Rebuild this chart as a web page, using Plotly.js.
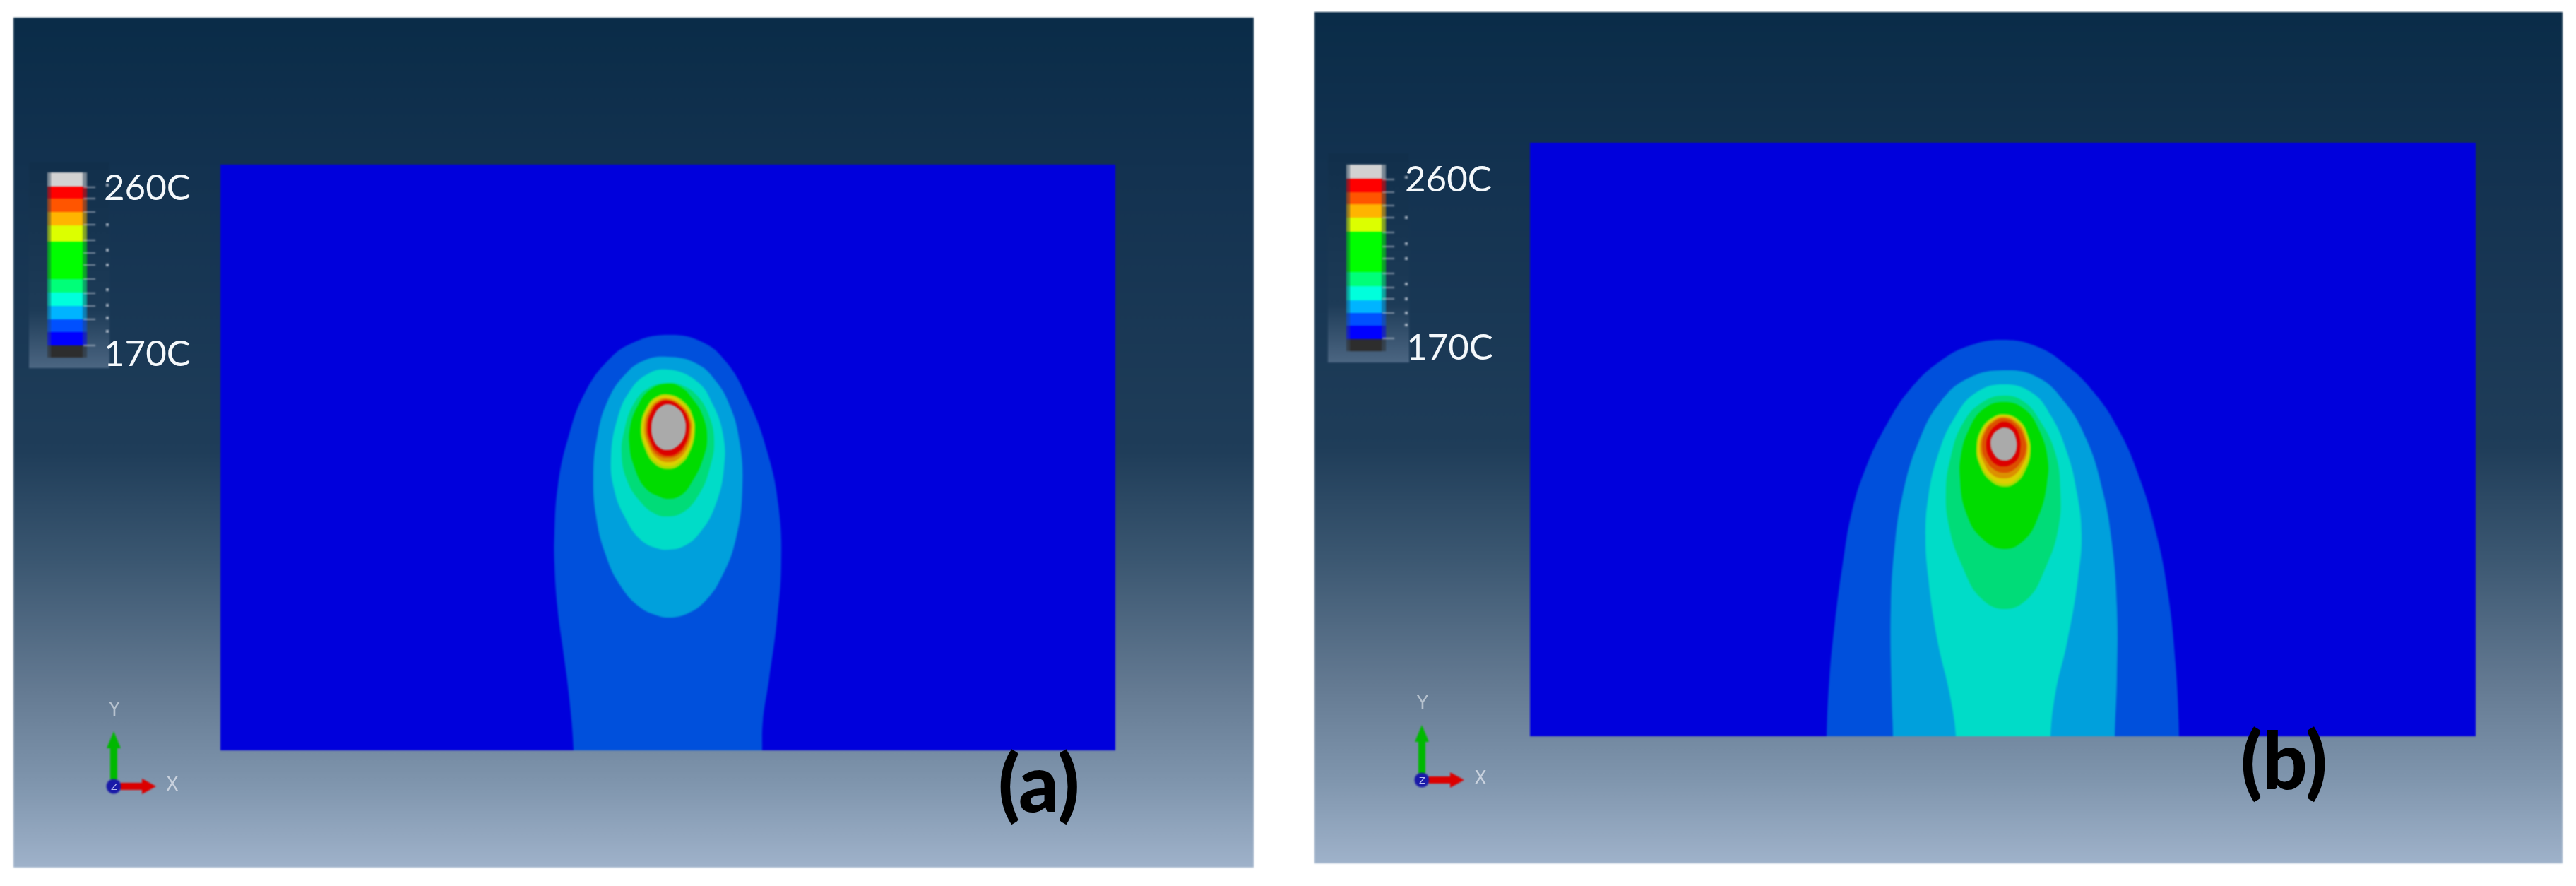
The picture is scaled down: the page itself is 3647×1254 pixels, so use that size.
<!DOCTYPE html>
<html>
<head>
<meta charset="utf-8">
<script src="https://cdn.plot.ly/plotly-3.0.1.min.js"></script>
<style>
html,body{margin:0;padding:0;background:#fff;}
#plot{width:3647px;height:1254px;}
#plot .cartesianlayer{filter:blur(1.3px);}
#plot .annotation{filter:blur(0.7px);}
</style>
</head>
<body>
<div id="plot"></div>
<script>
// ---- Temperature bands (colour of each plotted isotherm band) ----
const colHalo = '#0050dc', colCyan = '#00a0dc', colTeal = '#00dcc8', colMint = '#00dc78', colGreen = '#00dc00';
const colLime = '#a8dc00', colYellow = '#dcd000', colOrange = '#dc9000', colDeep = '#dc5000', colRed = '#dc0000', colGrey = '#aaaaaa';
const colPlate = '#0000dc';

// ---- Panel (a) contours: u across plate from heat-source axis, v above plate base ----
const aHaloU = [-134,-141,-149,-157,-161,-161,-156,-142,-119,-86,-52,-1,48,81,114,141,156,160,154,143,134,133];
const aHaloV = [0,82,143,204,265,306,376,441,504,551,576,588,578,551,494,420,347,265,184,102,41,0];
const aCyanU = [-1,-36,-62,-86,-101,-106,-102,-89,-69,-42,-19,1,28,54,78,96,105,101,88,68,41];
const aCyanV = [557,551,531,494,441,388,330,278,235,204,192,188,194,213,250,300,371,437,486,522,547];
const aTealU = [-1,-32,-56,-72,-81,-77,-62,-39,-16,1,24,48,68,79,78,63,41];
const aTealV = [539,531,506,469,416,371,331,298,286,284,290,312,350,400,445,490,522];
const aMintU = [-1,-29,-49,-62,-66,-59,-42,-19,-1,21,44,59,65,58,41,21];
const aMintV = [520,512,490,453,420,384,355,335,331,337,363,400,437,473,502,516];
const aGreenU = [-1,-26,-44,-54,-55,-49,-32,-12,-1,18,36,49,55,49,34,18];
const aGreenV = [519,510,486,457,433,404,371,359,356,361,384,412,441,473,498,514];
const aLimeU = [0,24,36,38,32,17,0,-19,-34,-39,-31,-18];
const aLimeV = [504,492,470,452,425,404,398,405,429,459,485,500];
const aYellowU = [0,22,34,36,30,16,0,-18,-32,-37,-29,-17];
const aYellowV = [502,490,469,452,427,408,402,409,431,459,484,498];
const aOrangeU = [0,21,32,33,28,15,0,-16,-29,-34,-27,-15];
const aOrangeV = [498,487,468,452,430,413,408,414,434,459,482,495];
const aDeepU = [0,20,30,31,26,14,0,-15,-27,-31,-25,-14];
const aDeepV = [496,485,467,452,433,418,414,418,436,459,480,493];
const aRedU = [0,18,28,29,24,13,0,-14,-25,-29,-23,-13];
const aRedV = [495,485,468,452,434,421,417,422,438,459,480,492];
const aGreyU = [0,15,23,25,21,11,0,-12,-21,-24,-20,-11];
const aGreyV = [490,483,470,455,440,429,425,428,440,458,474,486];

// ---- Panel (b) contours ----
const bHaloU = [-251,-247,-239,-228,-216,-197,-166,-132,-90,-48,0,48,90,128,163,193,216,232,243,248];
const bHaloV = [0,82,163,245,314,376,441,492,531,553,561,551,524,486,433,363,286,204,102,0];
const bCyanU = [-157,-159,-160,-155,-144,-121,-90,-52,0,48,86,117,140,153,160,160,157];
const bCyanV = [0,61,184,265,339,416,473,506,518,508,473,420,347,273,184,82,0];
const bTealU = [-68,-77,-94,-107,-111,-107,-94,-71,-40,0,40,67,90,103,110,105,90,73,66];
const bTealV = [0,61,135,224,282,339,396,449,486,498,486,453,400,347,286,224,135,61,0];
const bMintU = [0,-33,-59,-75,-82,-77,-59,-33,0,33,60,77,80,73,52,29];
const bMintV = [482,471,441,396,347,294,241,196,180,194,241,294,347,400,445,473];
const bGreenU = [0,-29,-50,-61,-62,-54,-33,0,29,50,61,62,50,29];
const bGreenV = [473,463,433,396,363,318,282,265,278,314,359,392,433,463];
const bLimeU = [0,22,35,38,32,18,0,-20,-35,-39,-32,-18];
const bLimeV = [456,447,424,402,379,359,353,362,385,409,435,450];
const bYellowU = [0,21,33,36,29,16,0,-18,-33,-37,-30,-17];
const bYellowV = [454,445,423,402,381,362,357,365,386,409,434,448];
const bOrangeU = [0,20,31,33,26,14,0,-16,-29,-34,-28,-16];
const bOrangeV = [452,443,423,403,384,369,365,370,389,409,432,446];
const bDeepU = [0,18,29,31,24,12,0,-13,-26,-31,-26,-14];
const bDeepV = [450,441,422,404,388,376,373,377,392,409,431,445];
const bRedU = [0,14,22,23,19,9,0,-10,-20,-25,-21,-11];
const bRedV = [445,439,424,405,392,384,382,384,394,411,428,440];
const bGreyU = [0,11,17,18,14,7,0,-7,-14,-19,-16,-8];
const bGreyV = [437,433,422,407,397,391,390,392,399,413,426,434];

// ---- Plates ----
const plateAU = [-634,633], plateAV = [0,829];
const plateBU = [-671,668], plateBV = [0,840];

// ---- Viewport backgrounds ----
const panelAX = [19,1775], panelAY = [25,1228];
const panelBX = [1861,3628], panelBY = [17,1222];
const bgStops = [0,0.18,0.51,0.64,0.79,0.9,1];
const bgColors = ['#0a2c48','#133250','#1f3d59','#3b5771','#647a92','#7f95ad','#9fb2ca'];

// ---- Legend (colour key) ----
const legendLabels = ['260C','170C'];
const legendColors = ['#d2d2d2','#ff0000','#ff5500','#ffb400','#dcff00','#00ff00','#00ff78','#00ffdc','#00b4ff','#0050ff','#0000ff','#2d2d2d'];
const keyEdgesA = [244,264,281,300,319,342,395,414,433,452,470,489,506];
const keyEdgesB = [233,253,272,289,308,328,385,405,425,443,461,480,497];
const keyAX = [67,123,72,117], keyBX = [1906,1962,1911,1956];
const backAX = [41,155], backAY = [229,521];
const backBX = [1880,1995], backBY = [217,513];
const backStops = [0,0.72,1];
const backColors = ['#112f4b','#1d3b57','#4c6682'];
const tickYA = [265,281,300,318,340,358,375,395,415,433,452,489];
const dotYA = [262,318,354,375,410,432,450,469];
const tickYB = [254,272,291,308,329,349,366,387,407,423,443,479];
const dotYB = [251,308,345,366,402,423,443,460];
const labelAPos = [[145,263],[145,498]];
const labelBPos = [[1987,251],[1989,489]];

// ---- Orientation triads ----
const originA = [161,1113], originB = [2013,1104];
const yArrowX = [-5,5,5,10,0,-10,-5], yArrowY = [-10,-10,-54,-54,-78,-54,-54];
const xArrowX = [10,40,40,60,40,40,10], xArrowY = [-5,-5,-11,0,11,5,5];
const yTextOff = [0,-109], xTextOff = [83,-3];

// ---- Panel captions ----
const captions = ['(a)','(b)'];
const captionPos = [[1471,1105],[3233,1073]];

// ---------------- build ----------------
const traces = [];
const hidden = {hoverinfo:'skip', showlegend:false};

function background(xr, yr, stops, colors, xa, ya){
  traces.push(Object.assign({
    type:'scatter', mode:'lines', x:[xr[0],xr[1],xr[1],xr[0],xr[0]], y:[yr[0],yr[0],yr[1],yr[1],yr[0]],
    fill:'toself', line:{width:0},
    fillgradient:{type:'vertical', start:yr[0], stop:yr[1], colorscale:stops.map((s,i)=>[s,colors[i]])},
    xaxis:xa, yaxis:ya
  }, hidden));
}
function flat(xs, ys, color, op, xa, ya){
  traces.push(Object.assign({
    type:'scatter', mode:'lines', x:xs, y:ys, fill:'toself', fillcolor:color, opacity:op===undefined?1:op,
    line:{width:0}, xaxis:xa, yaxis:ya
  }, hidden));
}
function contour(us, vs, color, xa, ya){
  let xs, ys;
  if(vs[0]===0){ // band runs off the plate base
    xs=[us[0]].concat(us,[us[us.length-1]]);
    ys=[-40].concat(vs,[-40]);
  } else {
    xs=us.concat([us[0]]);
    ys=vs.concat([vs[0]]);
  }
  traces.push(Object.assign({
    type:'scatter', mode:'lines', x:xs, y:ys, fill:'toself', fillcolor:color,
    line:{width:0, shape:'spline', smoothing:1.3}, xaxis:xa, yaxis:ya
  }, hidden));
}
function rect(xr, yr, color, xa, ya){
  flat([xr[0],xr[1],xr[1],xr[0],xr[0]],[yr[0],yr[0],yr[1],yr[1],yr[0]],color,1,xa,ya);
}
function key(edges, kx, ticks, dots){
  const tops=edges.slice(0,-1), hs=tops.map((t,i)=>edges[i+1]-t);
  traces.push(Object.assign({type:'bar', x:tops.map(()=> (kx[0]+kx[1])/2), y:hs, base:tops,
    width:tops.map(()=>kx[1]-kx[0]), marker:{color:legendColors, line:{width:0}}, opacity:0.55,
    xaxis:'x4', yaxis:'y4'}, hidden));
  traces.push(Object.assign({type:'bar', x:tops.map(()=> (kx[2]+kx[3])/2), y:hs, base:tops,
    width:tops.map(()=>kx[3]-kx[2]), marker:{color:legendColors, line:{width:0}},
    xaxis:'x4', yaxis:'y4'}, hidden));
  const tx=[], ty=[];
  ticks.forEach(t=>{tx.push(kx[1]-5,kx[1]+12,null); ty.push(t,t,null);});
  traces.push(Object.assign({type:'scatter',mode:'lines',x:tx,y:ty,line:{color:'rgba(210,215,225,0.55)',width:2},xaxis:'x4',yaxis:'y4'},hidden));
  traces.push(Object.assign({type:'scatter',mode:'markers',x:dots.map(()=>kx[1]+29),y:dots,
    marker:{symbol:'square',size:4,color:'rgba(220,225,235,0.7)'},xaxis:'x4',yaxis:'y4'},hidden));
}
function triad(o){
  flat(yArrowX.map(v=>v+o[0]), yArrowY.map(v=>v+o[1]), '#00b800', 1, 'x4','y4');
  flat(xArrowX.map(v=>v+o[0]), xArrowY.map(v=>v+o[1]), '#dc0000', 1, 'x4','y4');
  traces.push(Object.assign({type:'scatter',mode:'markers',x:[o[0]],y:[o[1]],
    marker:{size:21,color:'#1a1aa8',line:{width:0}},xaxis:'x4',yaxis:'y4'},hidden));
}

background(panelAX, panelAY, bgStops, bgColors, 'x','y');
background(panelBX, panelBY, bgStops, bgColors, 'x','y');
background(backAX, backAY, backStops, backColors, 'x','y');
background(backBX, backBY, backStops, backColors, 'x','y');
key(keyEdgesA, keyAX, tickYA, dotYA);
key(keyEdgesB, keyBX, tickYB, dotYB);
triad(originA);
triad(originB);

// plate (a)
rect(plateAU, [plateAV[0],plateAV[1]], colPlate, 'x2','y2');
[[aHaloU,aHaloV,colHalo],[aCyanU,aCyanV,colCyan],[aTealU,aTealV,colTeal],[aMintU,aMintV,colMint],[aGreenU,aGreenV,colGreen],
 [aLimeU,aLimeV,colLime],[aYellowU,aYellowV,colYellow],[aOrangeU,aOrangeV,colOrange],[aDeepU,aDeepV,colDeep],[aRedU,aRedV,colRed],[aGreyU,aGreyV,colGrey]]
 .forEach(c=>contour(c[0],c[1],c[2],'x2','y2'));
// plate (b)
rect(plateBU, [plateBV[0],plateBV[1]], colPlate, 'x3','y3');
[[bHaloU,bHaloV,colHalo],[bCyanU,bCyanV,colCyan],[bTealU,bTealV,colTeal],[bMintU,bMintV,colMint],[bGreenU,bGreenV,colGreen],
 [bLimeU,bLimeV,colLime],[bYellowU,bYellowV,colYellow],[bOrangeU,bOrangeV,colOrange],[bDeepU,bDeepV,colDeep],[bRedU,bRedV,colRed],[bGreyU,bGreyV,colGrey]]
 .forEach(c=>contour(c[0],c[1],c[2],'x3','y3'));

const W=3647, H=1254;
const plateAPix = {x:[312,1579], y:[233,1062]};
const plateBPix = {x:[2166,3505], y:[202,1042]};
const off = {visible:false, fixedrange:true};
const annotations = [];
function label(text,pos,size,color,weight,anchor){
  annotations.push({text:text, x:pos[0], y:pos[1], xref:'x', yref:'y', showarrow:false, xanchor:anchor, yanchor:'middle',
    font:{family:'Lato, "Open Sans", sans-serif', size:size, color:color, weight:weight}});
}
legendLabels.forEach((t,i)=>{ label(t,labelAPos[i],51,'#f4f8fb',400,'left'); label(t,labelBPos[i],51,'#f4f8fb',400,'left'); });
captions.forEach((t,i)=>label(t,captionPos[i],112,'#000000',900,'center'));
[originA,originB].forEach(o=>{
  annotations.push({text:'Y',x:o[0]+yTextOff[0],y:o[1]+yTextOff[1],xref:'x',yref:'y',showarrow:false,font:{family:'"DejaVu Sans"',size:26,color:'rgba(215,222,230,0.7)'}});
  annotations.push({text:'X',x:o[0]+xTextOff[0],y:o[1]+xTextOff[1],xref:'x',yref:'y',showarrow:false,font:{family:'"DejaVu Sans"',size:26,color:'rgba(225,230,238,0.75)'}});
  annotations.push({text:'Z',x:o[0],y:o[1],xref:'x',yref:'y',showarrow:false,font:{family:'"DejaVu Sans"',size:13,color:'rgba(225,230,255,0.8)'}});
});

const layout = {
  width:W, height:H, margin:{l:0,r:0,t:0,b:0,pad:0}, autosize:false,
  paper_bgcolor:'#ffffff', plot_bgcolor:'rgba(0,0,0,0)', showlegend:false, barmode:'overlay',
  xaxis:Object.assign({range:[0,W],domain:[0,1]},off),
  yaxis:Object.assign({range:[H,0],domain:[0,1]},off),
  xaxis2:Object.assign({range:plateAU,domain:[plateAPix.x[0]/W,plateAPix.x[1]/W],anchor:'y2'},off),
  yaxis2:Object.assign({range:plateAV,domain:[1-plateAPix.y[1]/H,1-plateAPix.y[0]/H],anchor:'x2'},off),
  xaxis3:Object.assign({range:plateBU,domain:[plateBPix.x[0]/W,plateBPix.x[1]/W],anchor:'y3'},off),
  yaxis3:Object.assign({range:plateBV,domain:[1-plateBPix.y[1]/H,1-plateBPix.y[0]/H],anchor:'x3'},off),
  xaxis4:Object.assign({range:[0,W],domain:[0,1],anchor:'y4'},off),
  yaxis4:Object.assign({range:[H,0],domain:[0,1],anchor:'x4'},off),
  annotations:annotations
};
Plotly.newPlot('plot',traces,layout,{staticPlot:true,displayModeBar:false,responsive:false});
</script>
</body>
</html>
